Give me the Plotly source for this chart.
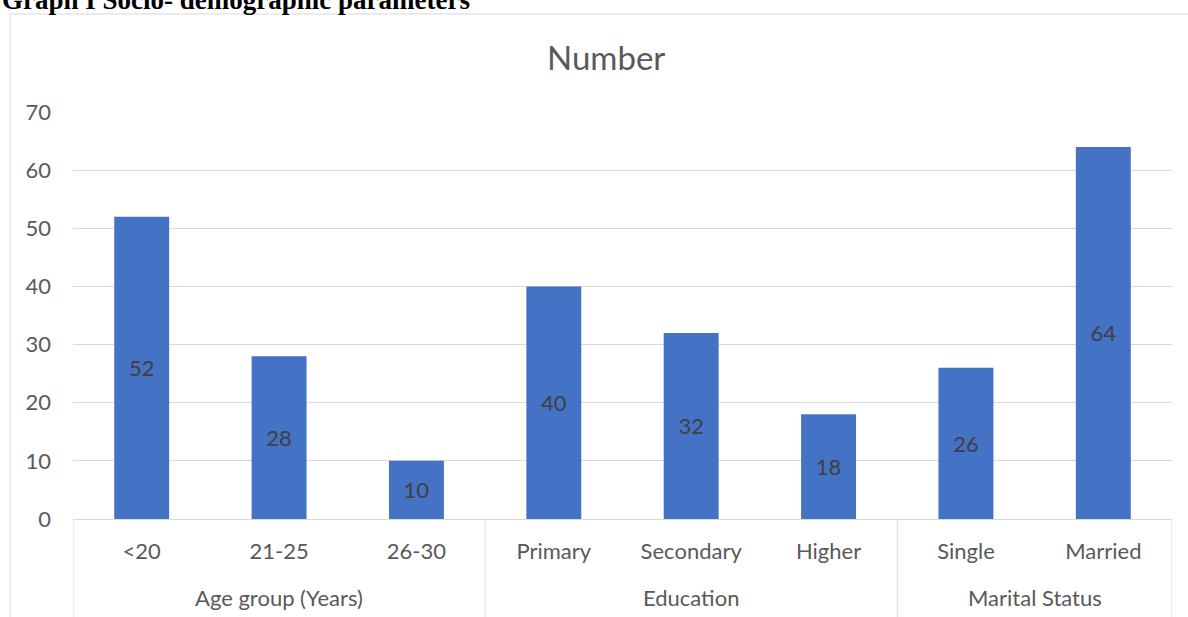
import plotly.graph_objects as go

# Socio-demographic breakdown of respondents
categories = ["<20", "21-25", "26-30", "Primary", "Secondary", "Higher", "Single", "Married"]
counts = [52, 28, 10, 40, 32, 18, 26, 64]
groups = ["Age group (Years)", "Education", "Marital Status"]
group_sizes = [3, 3, 2]
y_ticks = [0, 10, 20, 30, 40, 50, 60, 70]

W, H = 1188, 617
L, R, T, B = 73, 16, 112, 98
plot_w = W - L - R
plot_h = H - T - B

def px_x(p):
    return (p - L) / plot_w

def px_y(p):
    return (H - B - p) / plot_h

GRID = "#d9d9d9"
FONT = "Lato, 'Open Sans', sans-serif"
LABEL_SIZE = 22

fig = go.Figure(
    go.Bar(
        x=list(range(len(categories))),
        y=counts,
        text=[str(v) for v in counts],
        textposition="inside",
        insidetextanchor="middle",
        textfont=dict(family=FONT, size=LABEL_SIZE, color="#404040"),
        marker=dict(color="#4472C4", line=dict(width=0)),
        width=0.4,
        hoverinfo="x+y",
    )
)

shapes = []
# dividers between category groups, running below the axis
edge = -0.5
bounds = [edge]
for n in group_sizes:
    edge += n
    bounds.append(edge)
for b in bounds:
    shapes.append(dict(type="line", xref="x", yref="paper", x0=b, x1=b,
                       y0=0, y1=px_y(H + 20), line=dict(color=GRID, width=1)))

# outer chart frame
shapes.append(dict(type="rect", xref="paper", yref="paper",
                   x0=px_x(10), x1=px_x(W + 40), y0=px_y(14), y1=px_y(H + 40),
                   line=dict(color=GRID, width=1), fillcolor="rgba(0,0,0,0)", layer="below"))

annotations = []
start = 0
for name, n in zip(groups, group_sizes):
    mid = start + (n - 1) / 2
    annotations.append(dict(text=name, x=mid, xref="x", y=px_y(597), yref="paper",
                            xanchor="center", yanchor="middle", showarrow=False,
                            font=dict(family=FONT, size=LABEL_SIZE, color="#595959")))
    start += n

annotations.append(dict(text="Number", x=px_x(606), xref="paper", y=px_y(57), yref="paper",
                        xanchor="center", yanchor="middle", showarrow=False,
                        font=dict(family=FONT, size=33, color="#595959")))

annotations.append(dict(text="<b>Graph I Socio- demographic parameters</b>",
                        x=px_x(0), xref="paper", y=px_y(0), yref="paper",
                        xanchor="left", yanchor="middle", showarrow=False,
                        font=dict(family="'Liberation Serif', 'Times New Roman', serif",
                                  size=27, color="#000000")))

fig.update_layout(
    width=W, height=H,
    margin=dict(l=L, r=R, t=T, b=B),
    paper_bgcolor="white", plot_bgcolor="white",
    showlegend=False,
    shapes=shapes,
    annotations=annotations,
    xaxis=dict(
        type="linear",
        range=[-0.5, len(categories) - 0.5],
        tickmode="array",
        tickvals=list(range(len(categories))),
        ticktext=categories,
        showgrid=False,
        zeroline=False,
        showline=True, linecolor=GRID, linewidth=1,
        ticks="",
        ticklabelstandoff=13,
        tickfont=dict(family=FONT, size=LABEL_SIZE, color="#595959"),
    ),
    yaxis=dict(
        range=[0, 70],
        tickmode="array",
        tickvals=y_ticks,
        showgrid=True, gridcolor=GRID, gridwidth=1,
        zeroline=False,
        showline=False,
        ticks="",
        ticklabelstandoff=21,
        tickfont=dict(family=FONT, size=LABEL_SIZE, color="#595959"),
    ),
)

fig.write_html("out.html")
